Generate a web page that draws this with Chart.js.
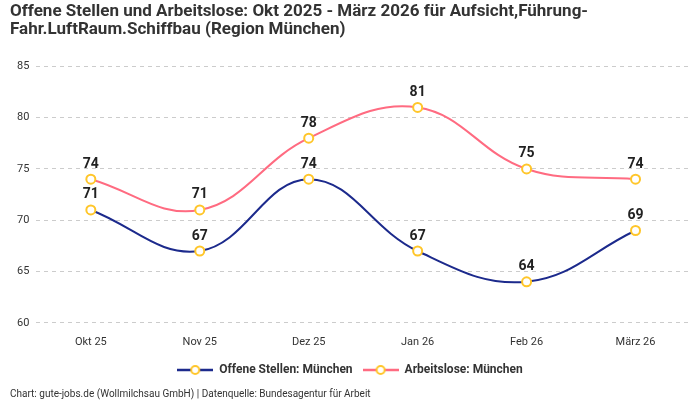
<!DOCTYPE html>
<html>
<head>
<meta charset="utf-8">
<script src="https://cdn.jsdelivr.net/npm/chart.js@4"></script>
<style>
  html, body { margin: 0; padding: 0; background: #fff; }
  #wrap { width: 700px; height: 400px; }
</style>
</head>
<body>
<div id="wrap"><canvas id="myChart"></canvas></div>
<script>
const months = ['Okt 25', 'Nov 25', 'Dez 25', 'Jan 26', 'Feb 26', 'März 26'];
const offeneStellen = [71, 67, 74, 67, 64, 69];
const arbeitslose = [74, 71, 78, 81, 75, 74];
const yTicks = [60, 65, 70, 75, 80, 85];

const blue = '#1c2a8c';
const pink = '#ff6b81';
const yellow = '#ffc62a';
const font = 'Roboto, "Noto Sans", sans-serif';

// little line-with-circle icon for the legend
function legendIcon(color) {
  const c = document.createElement('canvas');
  c.width = 36; c.height = 12;
  const g = c.getContext('2d');
  g.strokeStyle = color; g.lineWidth = 2.5;
  g.beginPath(); g.moveTo(0, 6); g.lineTo(36, 6); g.stroke();
  g.fillStyle = '#fff'; g.strokeStyle = yellow; g.lineWidth = 2;
  g.beginPath(); g.arc(18, 6, 4, 0, Math.PI * 2); g.fill(); g.stroke();
  return c;
}

const valueLabels = {
  id: 'valueLabels',
  afterDatasetsDraw(chart) {
    const ctx = chart.ctx;
    ctx.save();
    ctx.font = 'bold 14px ' + font;
    ctx.fillStyle = '#222';
    ctx.textAlign = 'center';
    ctx.textBaseline = 'bottom';
    chart.data.datasets.forEach((ds, i) => {
      chart.getDatasetMeta(i).data.forEach((pt, j) => {
        ctx.fillText(ds.data[j], pt.x, pt.y - 8);
      });
    });
    ctx.restore();
  }
};

const ctx = document.getElementById('myChart');

new Chart(ctx, {
  type: 'line',
  data: {
    labels: months,
    datasets: [{
      label: 'Offene Stellen: München',
      data: offeneStellen,
      borderColor: blue,
      borderWidth: 2,
      tension: 0.4,
      pointRadius: 4.5,
      pointBorderWidth: 2,
      pointBackgroundColor: '#fff',
      pointBorderColor: yellow
    }, {
      label: 'Arbeitslose: München',
      data: arbeitslose,
      borderColor: pink,
      borderWidth: 2,
      tension: 0.4,
      pointRadius: 4.5,
      pointBorderWidth: 2,
      pointBackgroundColor: '#fff',
      pointBorderColor: yellow
    }]
  },
  options: {
    responsive: true,
    maintainAspectRatio: false,
    animation: false,
    layout: { padding: { left: 10, right: 10, top: 2, bottom: 0 } },
    scales: {
      x: {
        offset: true,
        grid: { display: false },
        border: { display: false },
        ticks: { color: '#333', padding: 5, font: { family: font, size: 11 } }
      },
      y: {
        min: 60,
        max: 85,
        afterBuildTicks: axis => { axis.ticks = yTicks.map(v => ({ value: v })); },
        grid: { color: '#cccccc', drawTicks: false },
        border: { display: false, dash: [4, 4] },
        ticks: { color: '#333', padding: 7, font: { family: font, size: 11 } }
      }
    },
    plugins: {
      title: {
        display: true,
        align: 'start',
        text: ['Offene Stellen und Arbeitslose: Okt 2025 - März 2026 für Aufsicht,Führung-', 'Fahr.LuftRaum.Schiffbau (Region München)'],
        color: '#333',
        font: { family: font, size: 17, weight: 'bold', lineHeight: 1.1 },
        padding: { top: 0, bottom: 27 }
      },
      subtitle: {
        display: true,
        position: 'bottom',
        align: 'start',
        text: 'Chart: gute-jobs.de (Wollmilchsau GmbH) | Datenquelle: Bundesagentur für Arbeit',
        color: '#333',
        font: { family: font, size: 10 },
        padding: { top: 2, bottom: 0 }
      },
      legend: {
        position: 'bottom',
        labels: {
          usePointStyle: true,
          pointStyleWidth: 36,
          boxHeight: 12,
          color: '#333',
          padding: 10,
          font: { family: font, size: 12, weight: 'bold' },
          generateLabels: chart => Chart.defaults.plugins.legend.labels.generateLabels(chart)
            .map(item => Object.assign(item, {
              pointStyle: legendIcon(chart.data.datasets[item.datasetIndex].borderColor)
            }))
        }
      },
      tooltip: { enabled: false }
    }
  },
  plugins: [valueLabels]
});
</script>
</body>
</html>
